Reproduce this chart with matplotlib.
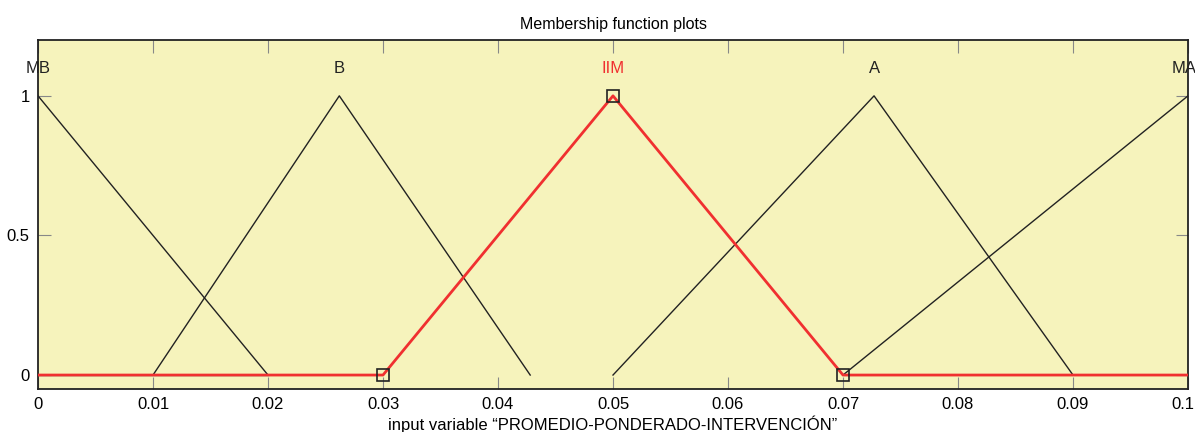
import matplotlib
matplotlib.use("Agg")
import matplotlib.pyplot as plt
import matplotlib.transforms as mtransforms

plt.rcParams['font.family'] = ['Liberation Sans', 'DejaVu Sans']

# Membership functions (only their non-zero parts are drawn in black)
mf_names = ["MB", "B", "IIM", "A", "MA"]
mf_x = [
    [0.0, 0.02],
    [0.01, 0.0262, 0.0428],
    [0.0, 0.03, 0.05, 0.07, 0.1],
    [0.05, 0.0727, 0.09],
    [0.07, 0.1],
]
mf_y = [
    [1.0, 0.0],
    [0.0, 1.0, 0.0],
    [0.0, 0.0, 1.0, 0.0, 0.0],
    [0.0, 1.0, 0.0],
    [0.0, 1.0],
]
label_x = [0.0, 0.0262, 0.05, 0.0727, 0.0997]
highlight = "IIM"
square_x = [0.03, 0.05, 0.07]
square_y = [0.0, 1.0, 0.0]
baseline_x = [0.0, 0.02]
baseline_y = [0.0, 0.0]

xticks = [0, 0.01, 0.02, 0.03, 0.04, 0.05, 0.06, 0.07, 0.08, 0.09, 0.1]
xticklabels = ["0", "0.01", "0.02", "0.03", "0.04", "0.05", "0.06", "0.07", "0.08", "0.09", "0.1"]
yticks = [0, 0.5, 1]
yticklabels = ["0", "0.5", "1"]

fig = plt.figure(figsize=(11.95, 4.32), dpi=100)
ax = fig.add_axes([38/1195, 1-389/432, (1188-38)/1195, (389-40)/432])
ax.set_facecolor("#F6F3BC")

# thin teal baseline under red
ax.plot(baseline_x, baseline_y, color="#3a9a9a", lw=1.0, zorder=2)

for name, xs, ys, lx in zip(mf_names, mf_x, mf_y, label_x):
    if name == highlight:
        ax.plot(xs, ys, color="#F03030", lw=2.0, zorder=4)
        col = "#F03030"
    else:
        ax.plot(xs, ys, color="#222222", lw=1.0, zorder=3)
        col = "#222222"
    ax.text(lx, 1.097, name, ha="center", va="center", fontsize=12, color=col, clip_on=False)

ax.plot(square_x, square_y, linestyle="none", marker="s", markersize=9,
        markerfacecolor="none", markeredgecolor="#222222", markeredgewidth=1.2, zorder=5)

ax.set_xlim(0, 0.1)
ax.set_ylim(-0.05, 1.2)
ax.set_xticks(xticks)
ax.set_xticklabels(xticklabels, fontsize=12)
ax.set_yticks(yticks)
ax.set_yticklabels(yticklabels, fontsize=12)
ax.tick_params(direction="in", length=9, color="#888888", top=True, right=True, pad=6)
for s in ax.spines.values():
    s.set_color("#222222")
    s.set_linewidth(1.3)

# nudge the last x tick label so it stays inside the figure
last = ax.get_xticklabels()[-1]
last.set_transform(last.get_transform() + mtransforms.ScaledTranslation(-5/100, 0, fig.dpi_scale_trans))

ax.set_title("Membership function plots", fontsize=11.5, pad=8)
ax.set_xlabel("input variable \u201cPROMEDIO-PONDERADO-INTERVENCI\u00d3N\u201d", fontsize=12, labelpad=2)

fig.savefig("out.png", dpi=100)
